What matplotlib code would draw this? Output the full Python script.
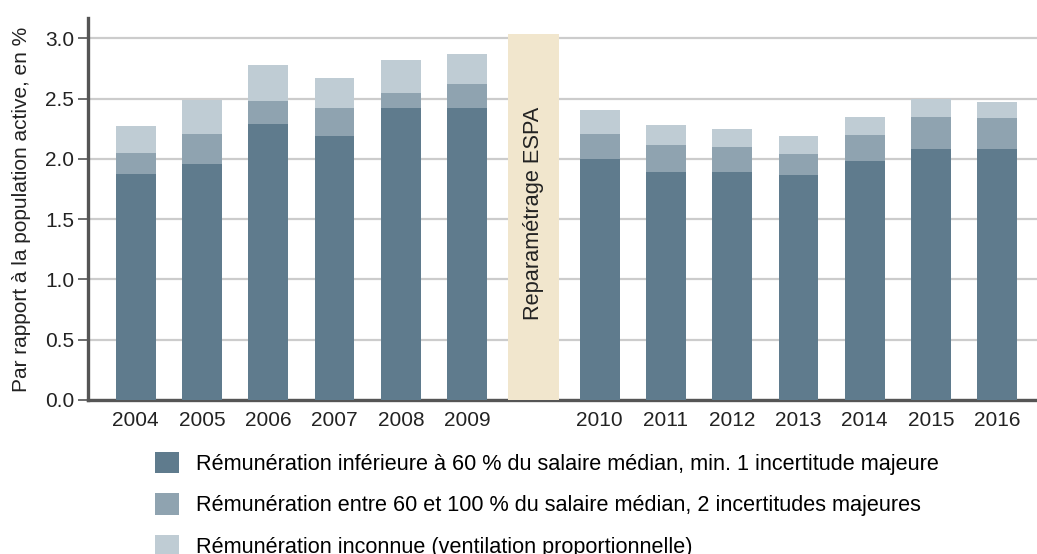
import matplotlib.pyplot as plt
from matplotlib.patches import Patch

## data
years_left = ['2004', '2005', '2006', '2007', '2008', '2009']
years_right = ['2010', '2011', '2012', '2013', '2014', '2015', '2016']
below_60 = [1.875, 1.96, 2.29, 2.19, 2.42, 2.42, 2.00, 1.89, 1.89, 1.87, 1.98, 2.085, 2.085]
between_60_100 = [0.175, 0.25, 0.19, 0.23, 0.13, 0.20, 0.21, 0.23, 0.21, 0.17, 0.22, 0.265, 0.255]
unknown = [0.22, 0.28, 0.30, 0.25, 0.27, 0.255, 0.195, 0.16, 0.15, 0.15, 0.15, 0.15, 0.13]
espa_height = 3.04
espa_label = 'Reparamétrage ESPA'
legend_labels = [
    'Rémunération inférieure à 60 % du salaire médian, min. 1 incertitude majeure',
    'Rémunération entre 60 et 100 % du salaire médian, 2 incertitudes majeures',
    'Rémunération inconnue (ventilation proportionnelle)',
]
ylabel = 'Par rapport à la population active, en %'

colors = ['#5f7b8d', '#8fa3b0', '#bfccd4']
espa_color = '#f1e6cd'

plt.rcParams['font.family'] = ['Liberation Sans', 'DejaVu Sans']
plt.rcParams['font.size'] = 15

# slot positions: a gap slot for the ESPA break between 2009 and 2010
labels = years_left + years_right
x = list(range(len(years_left))) + [len(years_left) + 1 + i for i in range(len(years_right))]
espa_x = len(years_left)

fig = plt.figure(figsize=(10.37, 5.54), dpi=100)
ax = fig.add_axes([0.0849, 0.278, 0.9151, 0.6895])

bottom2 = [a + b for a, b in zip(below_60, between_60_100)]
w = 0.6
ax.bar(x, below_60, w, color=colors[0], zorder=3)
ax.bar(x, between_60_100, w, bottom=below_60, color=colors[1], zorder=3)
ax.bar(x, unknown, w, bottom=bottom2, color=colors[2], zorder=3)

ax.bar([espa_x], [espa_height], 0.77, color=espa_color, zorder=3)
ax.text(espa_x, 1.55, espa_label, rotation=90, ha='center', va='center',
        fontsize=15.7, color='#222222', zorder=4)

ax.set_xlim(-0.72, 13.6)
ax.set_ylim(0, 3.17)
ax.set_yticks([0, 0.5, 1.0, 1.5, 2.0, 2.5, 3.0])
ax.set_yticklabels(['0.0', '0.5', '1.0', '1.5', '2.0', '2.5', '3.0'])
ax.set_xticks(x)
ax.set_xticklabels(labels)
ax.tick_params(axis='x', length=0, pad=8, colors='#222222')
ax.tick_params(axis='y', length=7, width=1.2, color='#555555', pad=3, labelcolor='#222222')
ax.yaxis.grid(True, color='#cccccc', linewidth=1.6, zorder=0)
ax.set_axisbelow(True)
ax.set_ylabel(ylabel, color='#222222', labelpad=10)

for s in ['top', 'right']:
    ax.spines[s].set_visible(False)
for s in ['left', 'bottom']:
    ax.spines[s].set_color('#555555')
    ax.spines[s].set_linewidth(2.4)

handles = [Patch(facecolor=c, edgecolor='none') for c in colors]
fig.legend(handles, legend_labels, loc='upper left', bbox_to_anchor=(0.149, 0.185),
           frameon=False, borderpad=0, borderaxespad=0, handlelength=1.15,
           handleheight=1.15, handletextpad=0.75, labelspacing=0.86, fontsize=15.6)

plt.savefig('out.png', dpi=100)
